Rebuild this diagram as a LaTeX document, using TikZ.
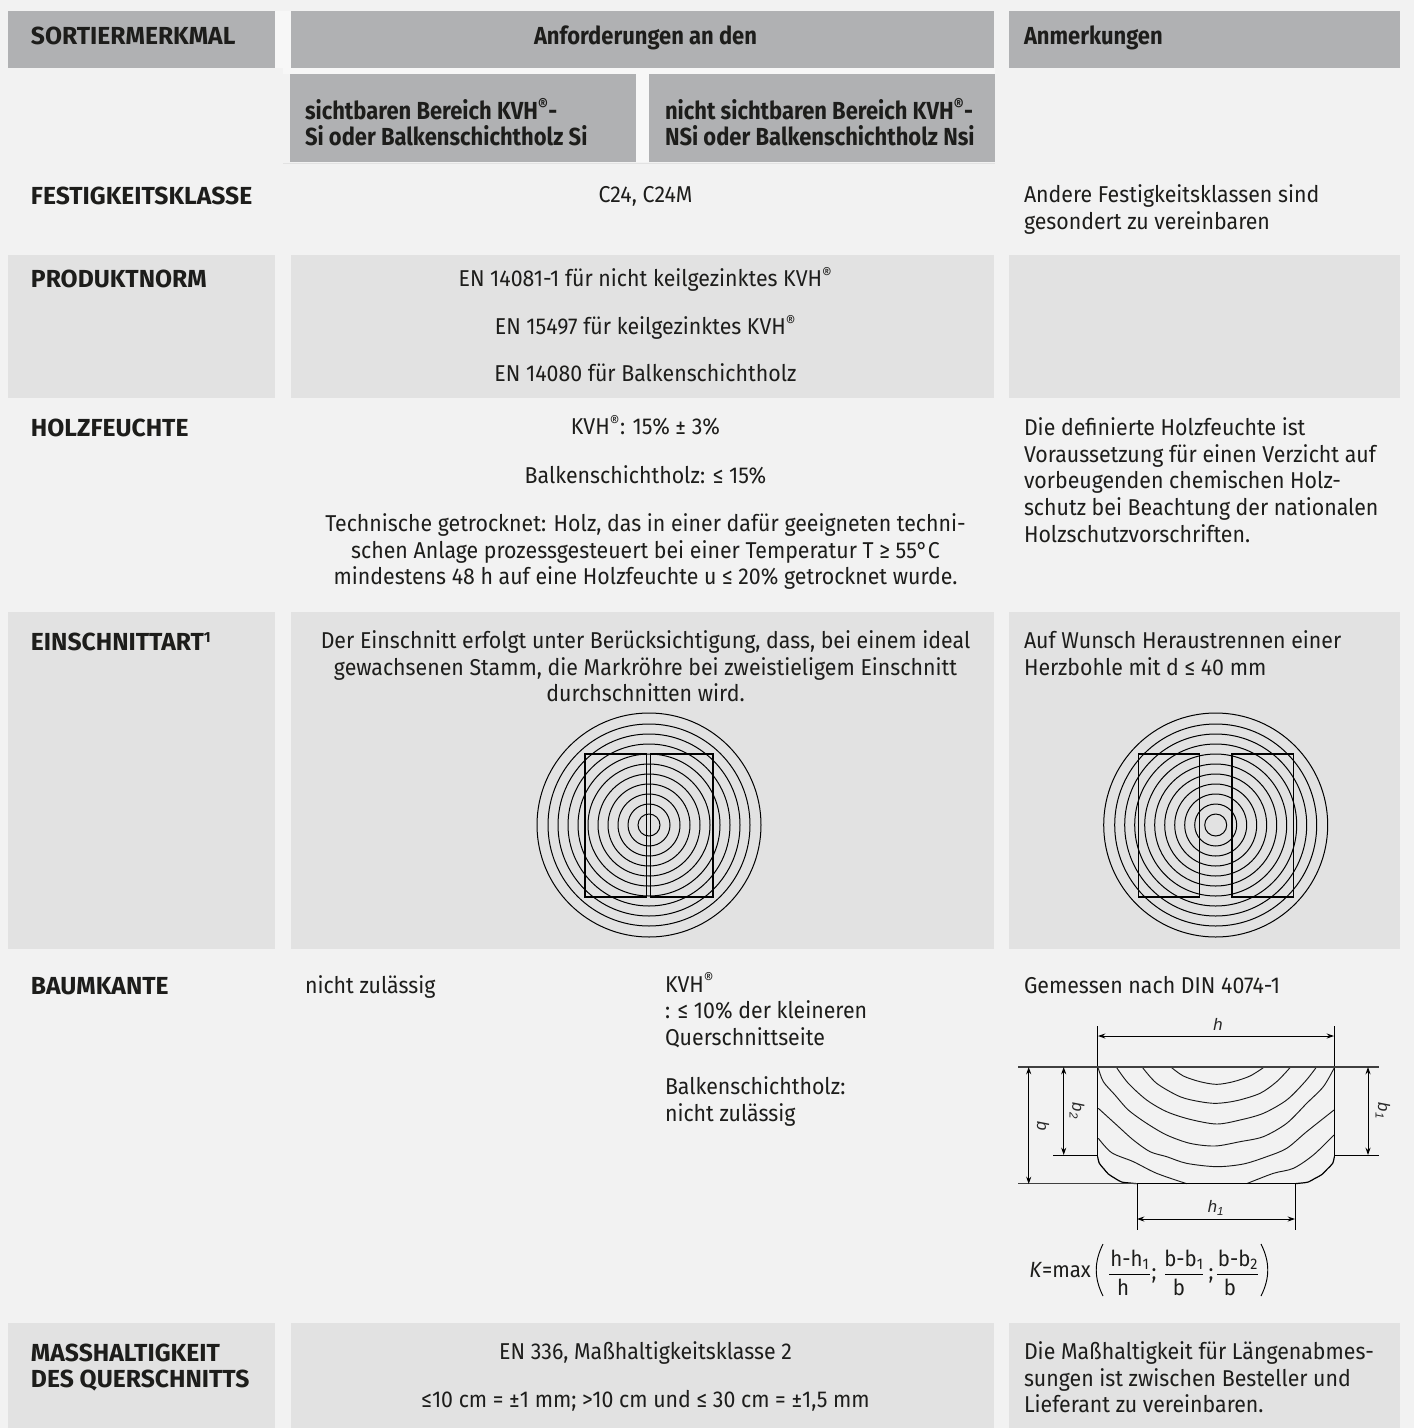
\documentclass[tikz,border=0pt]{standalone}
\usepackage{fontspec}
\setmainfont[FakeStretch=0.93]{Fira Sans}
\newfontfamily\headfont[FakeStretch=0.89]{Fira Sans}
\newfontfamily\capsfont{Fira Sans}
\newfontfamily\skfont{Liberation Sans}
\usetikzlibrary{arrows.meta}
\definecolor{pagebg}{HTML}{F2F2F2}
\definecolor{headgrey}{HTML}{B0B1B3}
\definecolor{cellgrey}{HTML}{E2E2E2}
\definecolor{gapgrey}{HTML}{F7F7F7}
\definecolor{inkc}{HTML}{1D1D1B}
\newcommand\ft{\rule{0pt}{12pt}}
\newcommand\rg{\smash{\raisebox{-0.8pt}{\textsuperscript{\textregistered}}}}
\tikzset{
 x=0.75pt,y=-0.75pt,
 txt/.style={inner sep=0pt,outer sep=0pt,text=inkc,font=\fontsize{17.2}{19.9}\selectfont},
 lefttxt/.style={txt,anchor=north west,align=left},
 midtxt/.style={txt,anchor=north,align=center},
 head/.style={txt,anchor=north west,align=left,font=\fontsize{18.5}{19.7}\selectfont\headfont\bfseries},
 headmid/.style={head,anchor=north,align=center},
 rowhead/.style={txt,anchor=north west,align=left,font=\fontsize{18.5}{19.7}\selectfont\capsfont\bfseries},
 ln/.style={draw=black,line width=0.85pt},
 ring/.style={draw=black,line width=0.75pt},
 wood/.style={draw=black,line width=0.9pt},
 grain/.style={draw=black!90,line width=0.7pt},
 dim/.style={draw=black,line width=0.7pt},
 dima/.style={dim,{Stealth[length=5.5pt,width=3.8pt]}-{Stealth[length=5.5pt,width=3.8pt]}},
 sk/.style={inner sep=0pt,text=black!85,font=\fontsize{12.5}{14}\selectfont\itshape\skfont},
 fm/.style={inner sep=0pt,text=inkc,font=\fontsize{16.5}{18}\selectfont},
}
\begin{document}
\begin{tikzpicture}
\useasboundingbox (0,0) rectangle (1414,1428);
\fill[pagebg] (0,0) rectangle (1414,1428);
% faint gaps
\fill[gapgrey] (275,11) rectangle (291,68);
\fill[gapgrey] (283,68) rectangle (995,74);
\fill[gapgrey] (636,74) rectangle (649,162);
\fill[cellgrey] (283,162.5) rectangle (995,163.5);
% header
\fill[headgrey] (8,11) rectangle (275,68);
\fill[headgrey] (291,11) rectangle (994,68);
\fill[headgrey] (1009,11) rectangle (1400,68);
\fill[headgrey] (290,74) rectangle (636,162);
\fill[headgrey] (649,74) rectangle (995,162);
% light cells
\foreach \a/\b in {255/398,612/949,1323/1428}{
 \fill[cellgrey] (8,\a) rectangle (275,\b);
 \fill[cellgrey] (291,\a) rectangle (994,\b);
 \fill[cellgrey] (1009,\a) rectangle (1400,\b);
}
% headings
\node[rowhead] (h1) at (31,27) {\ft SORTIERMERKMAL};
\node[headmid] (h2) at (645.5,25.5) {\ft Anforderungen an den};
\node[head] (h3) at (1024,25.5) {\ft Anmerkungen};
\node[head] (s1) at (305,99) {\ft sichtbaren Bereich KVH\rg-\\Si oder Balkenschichtholz Si};
\node[head] (s2) at (665,99) {\ft nicht sichtbaren Bereich KVH\rg-\\NSi oder Balkenschichtholz Nsi};
% row labels
\node[rowhead] (r1) at (31,187) {\ft FESTIGKEITSKLASSE};
\node[rowhead] (r2) at (31,270) {\ft PRODUKTNORM};
\node[rowhead] (r3) at (31,419) {\ft HOLZFEUCHTE};
\node[rowhead] (r4) at (31,633) {\ft EINSCHNITTART\smash{\textsuperscript{\fontsize{11}{11}\selectfont 1}}};
\node[rowhead] (r5) at (31,977) {\ft BAUMKANTE};
\node[rowhead] (r6) at (31,1344) {\ft MASSHALTIGKEIT\\DES QUERSCHNITTS};
% requirement texts
\node[midtxt] (a1) at (645.5,186) {\ft C24, C24M};
\node[midtxt] (a2) at (645.5,269) {\ft EN 14081-1 für nicht keilgezinktes KVH\rg};
\node[midtxt] (a3) at (645.5,317) {\ft EN 15497 für keilgezinktes KVH\rg};
\node[midtxt] (a4) at (645.5,364) {\ft EN 14080 für Balkenschichtholz};
\node[midtxt] (a5) at (645.5,418) {\ft KVH\rg: 15\% ± 3\%};
\node[midtxt] (a6) at (645.5,466) {\ft Balkenschichtholz: ≤ 15\%};
\node[midtxt] (a7) at (645.5,514) {\ft Technische getrocknet: Holz, das in einer dafür geeigneten techni-\\schen Anlage prozessgesteuert bei einer Temperatur T ≥ 55°C\\mindestens 48 h auf eine Holzfeuchte u ≤ 20\% getrocknet wurde.};
\node[midtxt] (a8) at (645.5,631) {\ft Der Einschnitt erfolgt unter Berücksichtigung, dass, bei einem ideal\\gewachsenen Stamm, die Markröhre bei zweistieligem Einschnitt\\durchschnitten wird.};
\node[lefttxt] (a9) at (305,976) {\ft nicht zulässig};
\node[lefttxt] (a10) at (665,976) {\ft KVH\rg\\: ≤ 10\% der kleineren\\Querschnittseite};
\node[lefttxt] (a11) at (665,1077) {\ft Balkenschichtholz:\\nicht zulässig};
\node[midtxt] (a12) at (645.5,1342) {\ft EN 336, Maßhaltigkeitsklasse 2};
\node[midtxt] (a13) at (645.5,1390) {\ft ≤10 cm = ±1 mm; >10 cm und ≤ 30 cm = ±1,5 mm};
% remarks
\node[lefttxt] (n1) at (1024,185) {\ft Andere Festigkeitsklassen sind\\gesondert zu vereinbaren};
\node[lefttxt] (n2) at (1024,418) {\ft Die definierte Holzfeuchte ist\\Voraussetzung für einen Verzicht auf\\vorbeugenden chemischen Holz-\\schutz bei Beachtung der nationalen\\Holzschutzvorschriften.};
\node[lefttxt] (n3) at (1024,631) {\ft Auf Wunsch Heraustrennen einer\\Herzbohle mit d ≤ 40 mm};
\node[lefttxt] (n4) at (1024,976) {\ft Gemessen nach DIN 4074-1};
\node[lefttxt] (n5) at (1024,1342) {\ft Die Maßhaltigkeit für Längenabmes-\\sungen ist zwischen Besteller und\\Lieferant zu vereinbaren.};
% log section 1
\foreach \r in {11,21,31,41,51,61,71,81,91,101,112}{\draw[ring] (649,825) circle[radius=\r];}
\draw[ln] (585,754) rectangle (646.7,897);
\draw[ln] (650.7,754) rectangle (713,897);
% log section 2
\foreach \r in {11,21,31,41,51,61,71,81,91,101,112}{\draw[ring] (1215.7,825) circle[radius=\r];}
\draw[ln] (1138.3,754) rectangle (1199.7,897);
\draw[ln] (1232,754) rectangle (1293.3,897);
% wane sketch
\begin{scope}[shift={(1000,1000)},x=0.25pt,y=-0.25pt]
 \draw[grain] plot[smooth] coordinates {(515,203)(550,228)(600,245)(650,253)(700,245)(750,228)(790,203)};
 \draw[grain] plot[smooth] coordinates {(428,203)(470,250)(540,290)(600,305)(650,310)(710,302)(780,280)(830,245)(870,203)};
 \draw[grain] plot[smooth] coordinates {(350,203)(385,250)(440,300)(500,335)(570,358)(650,372)(720,360)(790,340)(860,300)(915,245)(948,203)};
 \draw[grain] plot[smooth] coordinates {(295,205)(310,245)(345,285)(385,330)(440,370)(500,405)(570,430)(645,438)(720,425)(790,410)(860,370)(920,310)(970,260)(1002,205)};
 \draw[grain] plot[smooth] coordinates {(295,325)(350,375)(400,420)(450,455)(500,470)(560,490)(650,500)(730,492)(800,470)(860,445)(920,395)(1002,330)};
 \draw[grain] plot[smooth] coordinates {(295,415)(335,458)(400,485)(470,520)(560,551)};
 \draw[grain] plot[smooth] coordinates {(740,551)(820,520)(880,505)(940,465)(1002,405)};
 \draw[wood] (293,202) -- (293,470);
 \draw[wood] plot[smooth] coordinates {(293,470)(298,490)(312,507)(325,522)(345,535)(365,546)(390,549)(410,551)};
 \draw[wood] (1003,202) -- (1003,470);
 \draw[wood] plot[smooth] coordinates {(1003,470)(998,490)(982,507)(965,524)(945,535)(925,546)(905,549)(885,551)};
\end{scope}
\draw[dim] (1097.7,1026) -- (1097.7,1067);
\draw[dim] (1334.3,1026) -- (1334.3,1067);
\draw[ln,draw=black!75] (1018,1067) -- (1379,1067);
\draw[ln,draw=black!75] (1018,1183.7) -- (1137,1183.7);
\draw[ln] (1137,1183.7) -- (1295,1183.7);
\draw[dim] (1053,1155) -- (1098,1155);
\draw[dim] (1334,1155) -- (1379,1155);
\draw[dim] (1137,1184) -- (1137,1230);
\draw[dim] (1295,1184) -- (1295,1230);
\draw[dima] (1098,1036) -- (1334,1036);
\draw[dima] (1137,1219) -- (1295,1219);
\draw[dima] (1028.7,1067) -- (1028.7,1184);
\draw[dima] (1063.7,1067) -- (1063.7,1155);
\draw[dima] (1368,1067) -- (1368,1155);
\node[sk] (lh) at (1218,1024) {h};
\node[sk] (lh1) at (1216,1208) {h\textsubscript{1}};
\node[sk,rotate=-90] (lb) at (1043,1126) {b};
\node[sk,rotate=-90] (lb2) at (1077,1111) {b\textsubscript{2}};
\node[sk,rotate=-90] (lb1) at (1383,1111) {b\textsubscript{1}};
% formula
\node[fm,anchor=base west] (fk) at (1029,1277) {\textit{K}=max};
\node[fm] (f1) at (1130,1260) {h-h\textsubscript{1}};
\node[fm] (f2) at (1123,1287) {h};
\node[fm] (f3) at (1184,1260) {b-b\textsubscript{1}};
\node[fm] (f4) at (1179,1287) {b};
\node[fm] (f5) at (1238,1260) {b-b\textsubscript{2}};
\node[fm] (f6) at (1230,1287) {b};
\node[fm] (s1a) at (1154,1276) {;};
\node[fm] (s2a) at (1211,1276) {;};
\draw[dim] (1109,1274.5) -- (1150,1274.5);
\draw[dim] (1165,1274.5) -- (1203,1274.5);
\draw[dim] (1217,1274.5) -- (1258,1274.5);
\draw[dim] (1103,1244) .. controls (1094,1262) and (1094,1278) .. (1103,1296);
\draw[dim] (1261,1244) .. controls (1270,1262) and (1270,1278) .. (1261,1296);
\end{tikzpicture}
\end{document}
